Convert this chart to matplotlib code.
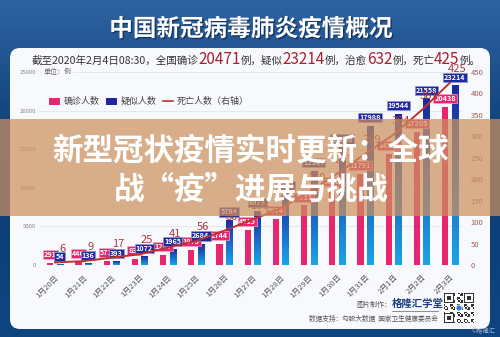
# coding=utf-8
import numpy as np
import matplotlib.pyplot as plt
import matplotlib.patheffects as pe
from matplotlib.patches import FancyBboxPatch, Rectangle, Patch, Circle
from matplotlib.lines import Line2D
from matplotlib.colors import LinearSegmentedColormap

plt.rcParams['font.family'] = ['Noto Sans CJK SC', 'DejaVu Sans']

dates = ['1月20日', '1月21日', '1月22日', '1月23日', '1月24日', '1月25日', '1月26日',
         '1月27日', '1月28日', '1月29日', '1月30日', '1月31日', '2月1日', '2月2日', '2月3日']
confirmed = [291, 440, 571, 830, 1287, 1975, 2744, 4515, 5974, 7711, 9692, 11791, 14380, 17205, 20438]
suspected = [54, 136, 393, 1072, 1965, 2684, 5794, 6973, 9239, 12167, 15238, 17988, 19544, 21558, 23214]
deaths = [6, 9, 17, 25, 41, 56, 80, 106, 132, 170, 213, 259, 304, 361, 425]

pink = '#e8266f'
navy = '#1f2a9e'
red = '#c0302e'

fig = plt.figure(figsize=(5, 3.37), dpi=100)

# ---- background + white panel (pixel coords, y down)
bg = fig.add_axes([0, 0, 1, 1])
bg.set_xlim(0, 500)
bg.set_ylim(337, 0)
bg.axis('off')
bg_cmap = LinearSegmentedColormap.from_list('bgc', ['#2d62a0', '#15467f', '#0e3f78', '#0d4581'])
bg.imshow(np.linspace(0, 1, 100)[:, None], cmap=bg_cmap, extent=(0, 500, 337, 0), aspect='auto')
bg.add_patch(FancyBboxPatch((10, 48), 480, 281, boxstyle='round,pad=0,rounding_size=10',
                            fc='#f7f9fc', ec='none'))

bg.text(251, 29, '中国新冠病毒肺炎疫情概况', fontsize=17, fontweight='bold', color='white',
        ha='center', va='center',
        path_effects=[pe.withSimplePatchShadow(offset=(1, -1), shadow_rgbFace='#0a1e40', alpha=0.6)])

# subtitle built piece by piece
r = fig.canvas.get_renderer()
pieces = [('截至2020年2月4日08:30，全国确诊', False), ('20471', True), ('例，疑似', False),
          ('23214', True), ('例，治愈', False), ('632', True), ('例，死亡', False),
          ('425', True), ('例。', False)]
xpos = 0
parts = []
for s, big in pieces:
    t = bg.text(xpos, 64, s, fontsize=11 if big else 7.6,
                color='#a8202e' if big else '#333333', ha='left', va='baseline')
    w = t.get_window_extent(renderer=r).width
    parts.append(t)
    xpos += w
shift = 256 - xpos / 2
for t in parts:
    t.set_x(t.get_position()[0] + shift)

# credits
bg.text(391, 305, '图片制作：', fontsize=5, color='#555555', ha='right', va='center')
bg.text(392, 304, '格隆汇学堂', fontsize=7.5, fontweight='bold', color='#1d3f80', ha='left', va='center')
bg.plot([392, 438], [311, 311], color='#1d3f80', lw=0.4)
bg.text(438, 319, '数据支持：勾股大数据  国家卫生健康委员会', fontsize=4.8, color='#555555',
        ha='right', va='center')
bg.text(496, 331, '©格隆汇', fontsize=4.5, color='#9ab0cc', ha='right', va='center')

# qr code decoration
qx, qy, qs = 444, 293, 30
bg.add_patch(Rectangle((qx, qy), qs, qs, fc='white', ec='none'))
cell = qs / 21
for i in range(21):
    for j in range(21):
        if (i * 7 + j * 3 + i * j) % 5 < 2:
            bg.add_patch(Rectangle((qx + j * cell, qy + i * cell), cell, cell, fc='#333333', ec='none'))
for fx, fy in [(0, 0), (14, 0), (0, 14)]:
    bg.add_patch(Rectangle((qx + fx * cell, qy + fy * cell), 7 * cell, 7 * cell, fc='#333333', ec='none'))
    bg.add_patch(Rectangle((qx + (fx + 1) * cell, qy + (fy + 1) * cell), 5 * cell, 5 * cell, fc='white', ec='none'))
    bg.add_patch(Rectangle((qx + (fx + 2) * cell, qy + (fy + 2) * cell), 3 * cell, 3 * cell, fc='#333333', ec='none'))
bg.add_patch(Circle((qx + qs / 2, qy + qs / 2), 3, fc='#2a7ad0', ec='white', lw=0.6))

# ---- chart
x = np.arange(len(dates))
ax = fig.add_axes([40 / 500, 1 - 265 / 337, 422 / 500, 193 / 337])
ax.set_facecolor('none')
for s in ax.spines.values():
    s.set_visible(False)

ax.bar(x - 0.17, confirmed, width=0.22, color=pink, zorder=2)
blue_cmap = LinearSegmentedColormap.from_list('bl', ['#1ba4e6', '#1c2a9e'])
for xi, v in zip(x + 0.17, suspected):
    ax.imshow(np.linspace(0, 1, 64)[:, None], cmap=blue_cmap, origin='lower',
              extent=(xi - 0.11, xi + 0.11, 0, v), aspect='auto', zorder=2)

ax.set_xlim(-0.532, 14.43)
ax.set_ylim(0, 25000)
ax.set_yticks(range(0, 25001, 5000))
ax.yaxis.grid(True, color='#e2e6eb', lw=0.6)
ax.set_axisbelow(True)
ax.tick_params(axis='y', length=0, labelsize=4.3, colors='#888888', pad=3)
ax.set_xticks(x)
ax.set_xticklabels(dates, rotation=45, ha='right', rotation_mode='anchor', fontsize=5.6, color='#555555')
ax.tick_params(axis='x', length=0, pad=6)

ax.text(-0.4, 25000, '单位：例', fontsize=5, color='#666666', ha='left', va='center',
        bbox=dict(boxstyle='square,pad=0.2', fc='#f7f9fc', ec='none'))

for xi, v in zip(x - 0.17, confirmed):
    ax.annotate(str(v), (xi, v), xytext=(0, 6), textcoords='offset points', ha='center', va='center',
                fontsize=5.2, fontweight='bold', color='white', zorder=5,
                bbox=dict(boxstyle='square,pad=0.15', fc=pink, ec='#f4a6c4', lw=0.5))
for xi, v in zip(x + 0.17, suspected):
    ax.annotate(str(v), (xi, v), xytext=(0, 6), textcoords='offset points', ha='center', va='center',
                fontsize=5.2, fontweight='bold', color='white', zorder=6,
                bbox=dict(boxstyle='square,pad=0.15', fc=navy, ec='#9096d4', lw=0.5))

ax2 = ax.twinx()
for s in ax2.spines.values():
    s.set_visible(False)
ax2.plot(x, deaths, color=red, lw=1.4, zorder=4)
ax2.set_ylim(0, 450)
ax2.set_yticks(range(0, 451, 50))
ax2.tick_params(axis='y', length=0, labelsize=5.5, colors='#a05a5a', pad=6)
for xi, d in zip(x, deaths):
    ax2.annotate(str(d), (xi + 0.25, d), xytext=(0, 10), textcoords='offset points', ha='center',
                 va='center', fontsize=8, color='#a83a3a', zorder=7)

handles = [Patch(fc=pink), Patch(fc=navy), Line2D([], [], color=red, lw=1.2)]
ax.legend(handles, ['确诊人数', '疑似人数', '死亡人数（右轴）'], loc='upper left',
          bbox_to_anchor=(41 / 500, 1 - 89 / 337), bbox_transform=fig.transFigure, ncol=3,
          frameon=False, fontsize=6.5, handlelength=1.2, handleheight=0.8, columnspacing=0.7,
          handletextpad=0.4, labelcolor='#444444')

# ---- banner overlay
top = fig.add_axes([0, 0, 1, 1])
top.set_xlim(0, 500)
top.set_ylim(337, 0)
top.axis('off')
top.add_patch(Rectangle((0, 119), 500, 97, fc=(0.80, 0.57, 0.37), alpha=0.72, ec='none'))
top.text(250, 151, '新型冠状疫情实时更新：全球', fontsize=22, fontweight='bold', color='white',
         ha='center', va='center')
top.text(251, 190, '战“疫”进展与挑战', fontsize=22, fontweight='bold', color='white',
         ha='center', va='center')

fig.savefig('out.png', dpi=100)
